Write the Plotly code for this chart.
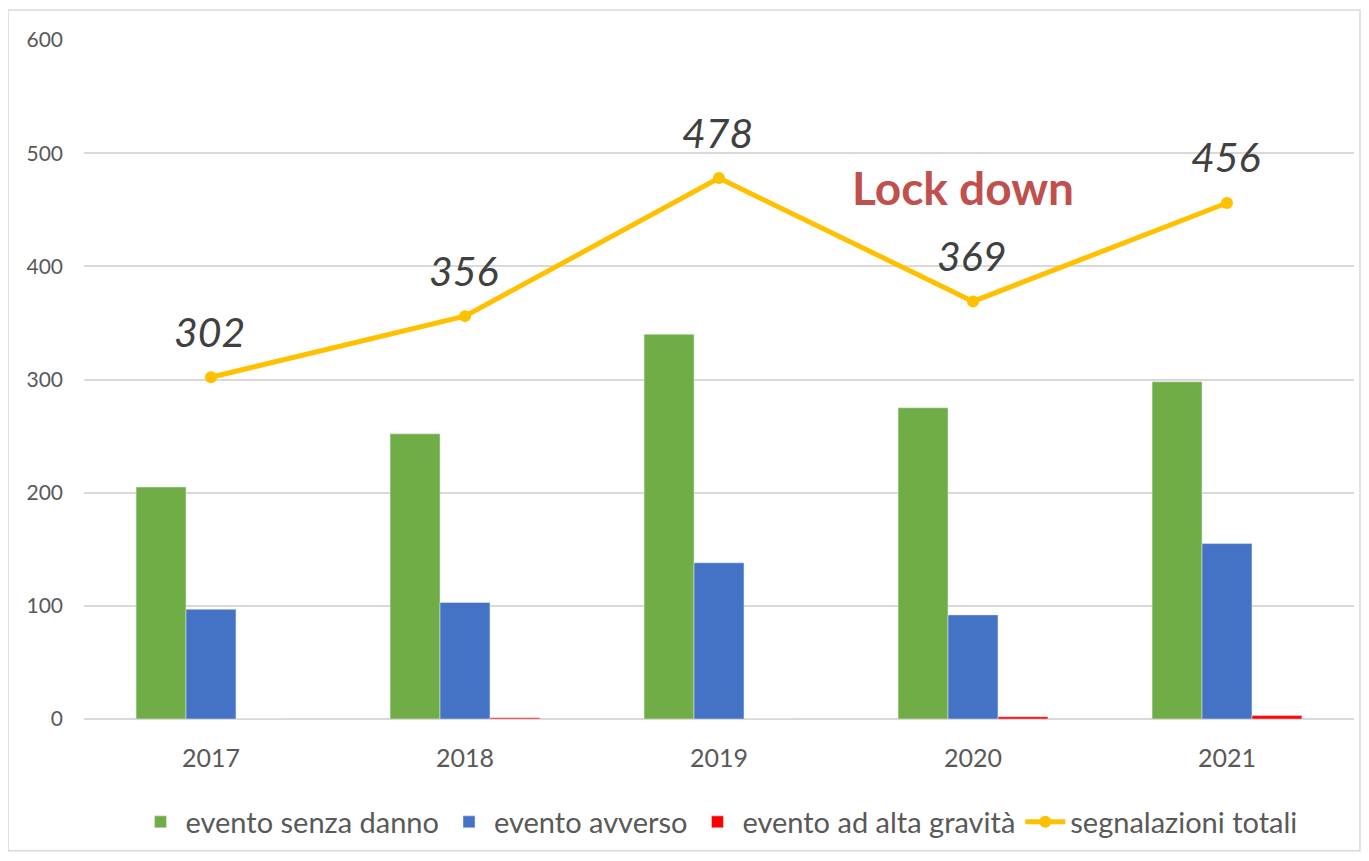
import plotly.graph_objects as go

years = ["2017", "2018", "2019", "2020", "2021"]
senza_danno = [205, 252, 340, 275, 298]
avverso = [97, 103, 138, 92, 155]
alta_gravita = [0, 1, 0, 2, 3]
totali = [302, 356, 478, 369, 456]

FONT = "Lato, 'Open Sans', sans-serif"
GRAY = "#595959"

fig = go.Figure()
fig.add_bar(x=years, y=senza_danno, name="evento senza danno", marker_color="#70AD47")
fig.add_bar(x=years, y=avverso, name="evento avverso", marker_color="#4472C4")
fig.add_bar(x=years, y=alta_gravita, name="evento ad alta gravità", marker_color="#FF0000")
fig.add_scatter(x=years, y=totali, name="segnalazioni totali", mode="lines+markers",
                line=dict(color="#FFC000", width=5), marker=dict(size=12, color="#FFC000"))

for i, v in enumerate(totali):
    fig.add_annotation(x=i, y=v, text=str(v), showarrow=False, yshift=46, xshift=-2,
                       font=dict(family=FONT, size=41, color="#404040", style="italic"))

fig.add_annotation(x=2.96, y=470, text="<b>Lock down</b>", showarrow=False,
                   font=dict(family=FONT, size=46, color="#C0504D"))

fig.add_shape(type="rect", xref="paper", yref="paper", x0=-0.0598, x1=1.0047, y0=-0.194, y1=1.044,
              line=dict(color="#D9D9D9", width=1.5), layer="below")

fig.update_layout(
    width=1353, height=845,
    margin=dict(l=76, r=7, t=32, b=133),
    plot_bgcolor="white", paper_bgcolor="white",
    barmode="group", bargap=0.41, bargroupgap=0,
    font=dict(family=FONT, color=GRAY),
    legend=dict(orientation="h", x=0.5, xanchor="center", y=-0.15, yanchor="middle",
                font=dict(size=29, color=GRAY), traceorder="normal", itemwidth=40),
    xaxis=dict(type="category", range=[-0.5, 4.5], tickfont=dict(size=25, color=GRAY),
               showgrid=False, ticks="", showline=False, automargin=False, ticklabelstandoff=22),
    yaxis=dict(range=[0, 600], dtick=100, tickfont=dict(size=21, color=GRAY),
               gridcolor="#D9D9D9", gridwidth=1.5, zeroline=True, zerolinecolor="#D9D9D9",
               zerolinewidth=1.5, ticklabelstandoff=20, automargin=False),
)

fig.write_html("out.html")
